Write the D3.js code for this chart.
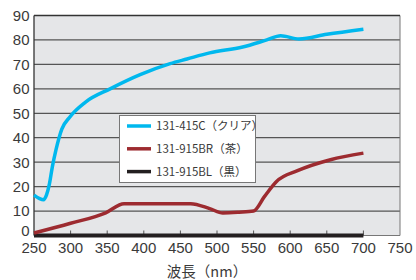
<!DOCTYPE html>
<html>
<head>
<meta charset="utf-8">
<script src="https://cdn.jsdelivr.net/npm/d3@7"></script>
<style>
  body { margin: 0; background: #fff; }
  svg { display: block; }
  text { font-family: "Liberation Sans", "Noto Sans CJK JP", sans-serif; fill: #3a3a3a; }
</style>
</head>
<body>
<script>
// wavelength (nm) vs transmittance (%)
const xTicks = [250, 300, 350, 400, 450, 500, 550, 600, 650, 700, 750];
const yTicks = [0, 10, 20, 30, 40, 50, 60, 70, 80, 90];

const clearNm  = [250, 257, 263, 267, 271, 275, 280, 288, 299, 320, 354, 395, 436, 459, 490, 535, 568, 587, 612, 650, 700];
const clearVal = [16.5, 15.2, 14.6, 16.5, 21, 28, 35, 43.5, 48.5, 54.5, 60, 65.8, 70.3, 72.2, 74.7, 77.1, 80, 81.7, 80.4, 82.3, 84.4];

const brownNm  = [250, 300, 348, 373, 464, 490, 508, 530, 550, 565, 581, 610, 655, 700];
const brownVal = [1, 5, 9.3, 13, 13, 11, 9.2, 9.5, 10, 16, 22, 26.5, 31, 33.7];

const blackNm  = [250, 700];
const blackVal = [0, 0];

const legendLabels = ["131-415C（クリア）", "131-915BR（茶）", "131-915BL（黒）"];
const colors = ["#00b8ee", "#9d2b30", "#231f20"];

const width = 416, height = 280;
const svg = d3.select("body").append("svg")
    .attr("width", width)
    .attr("height", height);

const x = d3.scaleLinear().domain([250, 750]).range([34, 400]);
const y = d3.scaleLinear().domain([0, 90]).range([235.5, 15.5]);

// axis title, mostly cut off at the very top
svg.append("text")
    .attr("x", 2).attr("y", -2)
    .attr("font-size", 13)
    .style("font-family", "'Noto Sans CJK JP'")
    .text("透過率（%）");

// plot background
svg.append("rect")
    .attr("x", x(250)).attr("y", y(90))
    .attr("width", x(750) - x(250)).attr("height", y(0) - y(90))
    .attr("fill", "#e5e6e8");

// grid lines
svg.selectAll(".grid")
    .data(yTicks.filter(d => d > 0 && d < 90))
    .enter().append("line")
    .attr("x1", x(250)).attr("x2", x(750))
    .attr("y1", d => y(d)).attr("y2", d => y(d))
    .attr("stroke", "#555")
    .attr("stroke-width", 1.3);

// frame
svg.append("line")
    .attr("x1", x(750)).attr("x2", x(750)).attr("y1", y(90)).attr("y2", y(0))
    .attr("stroke", "#777").attr("stroke-width", 1);
svg.append("line")
    .attr("x1", x(250)).attr("x2", x(750)).attr("y1", y(0)).attr("y2", y(0))
    .attr("stroke", "#777").attr("stroke-width", 1);
svg.append("line")
    .attr("x1", x(250)).attr("x2", x(750)).attr("y1", y(90)).attr("y2", y(90))
    .attr("stroke", "#333").attr("stroke-width", 1.3);
svg.append("line")
    .attr("x1", x(250)).attr("x2", x(250)).attr("y1", y(90)).attr("y2", y(0))
    .attr("stroke", "#333").attr("stroke-width", 1.3);

// small inner tick marks on the bottom
svg.selectAll(".tick")
    .data(xTicks.filter(d => d > 250 && d < 750))
    .enter().append("line")
    .attr("x1", d => x(d)).attr("x2", d => x(d))
    .attr("y1", y(0)).attr("y2", y(0) - 5)
    .attr("stroke", "#555")
    .attr("stroke-width", 1);

// axis labels
svg.selectAll(".ylab")
    .data(yTicks)
    .enter().append("text")
    .attr("x", 29.5)
    .attr("y", d => d === 0 ? y(d) - 5 : y(d))
    .attr("dy", "0.36em")
    .attr("text-anchor", "end")
    .attr("font-size", 15)
    .text(d => d);

svg.selectAll(".xlab")
    .data(xTicks)
    .enter().append("text")
    .attr("x", d => x(d))
    .attr("y", 248)
    .attr("dy", "0.36em")
    .attr("text-anchor", "middle")
    .attr("font-size", 15)
    .text(d => d);

svg.append("text")
    .attr("x", 207).attr("y", 277)
    .attr("text-anchor", "middle")
    .attr("font-size", 14.5)
    .style("font-family", "'Noto Sans CJK JP'")
    .text("波長（nm）");

// series lines
const line = d3.line()
    .x(d => x(d[0]))
    .y(d => y(d[1]))
    .curve(d3.curveMonotoneX);

const series = [
    d3.zip(clearNm, clearVal),
    d3.zip(brownNm, brownVal),
    d3.zip(blackNm, blackVal)
];

svg.append("path")
    .datum(series[2])
    .attr("fill", "none")
    .attr("stroke", colors[2])
    .attr("stroke-width", 4)
    .attr("d", line);

svg.append("path")
    .datum(series[1])
    .attr("fill", "none")
    .attr("stroke", colors[1])
    .attr("stroke-width", 3.5)
    .attr("d", line);

svg.append("path")
    .datum(series[0])
    .attr("fill", "none")
    .attr("stroke", colors[0])
    .attr("stroke-width", 3.5)
    .attr("stroke-linejoin", "round")
    .attr("d", line);

// legend
const legend = svg.append("g");
legend.append("rect")
    .attr("x", 119.5).attr("y", 115.5)
    .attr("width", 136).attr("height", 67)
    .attr("fill", "#fff")
    .attr("stroke", "#777")
    .attr("stroke-width", 1);

const rows = legend.selectAll(".row")
    .data(legendLabels)
    .enter().append("g")
    .attr("transform", (d, i) => `translate(127, ${126 + i * 22.8})`);

rows.append("line")
    .attr("x1", 0).attr("x2", 24)
    .attr("stroke", (d, i) => colors[i])
    .attr("stroke-width", 3.5);

rows.append("text")
    .attr("x", 29)
    .attr("dy", "0.36em")
    .attr("font-size", 11.5)
    .style("font-family", "'Noto Sans CJK JP'")
    .text(d => d);
</script>
</body>
</html>
